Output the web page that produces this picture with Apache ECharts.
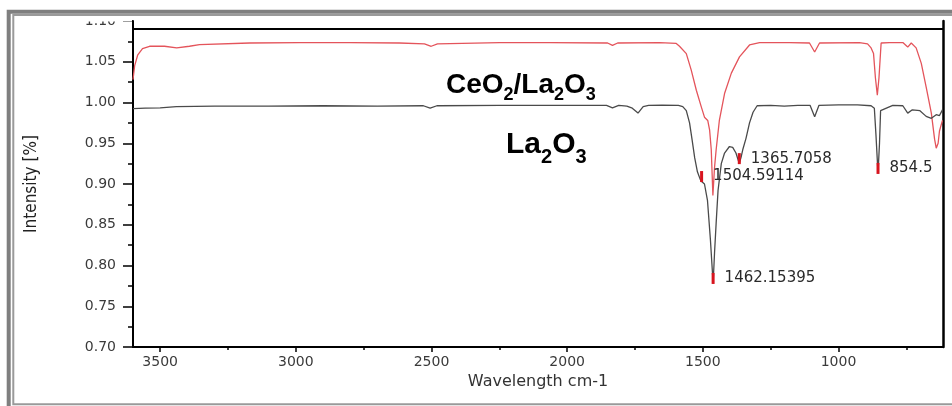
<!DOCTYPE html>
<html>
<head>
<meta charset="utf-8">
<script src="https://cdn.jsdelivr.net/npm/echarts@6/dist/echarts.min.js"></script>
<style>
html,body{margin:0;padding:0;background:#fff;}
#chart{width:952px;height:406px;}
</style>
</head>
<body>
<div id="chart"></div>
<script>
// CeO2/La2O3 spectrum (red)
const ceLaWn = [3600,3594,3583,3565,3539,3484,3439,3392,3355,3170,2986,2802,2618,2526,2501,2478,2249,2065,1851,1833,1814,1660,1598,1586,1561,1543,1524,1506,1494,1482,1475,1469,1463,1457,1451,1439,1420,1395,1365,1328,1291,1181,1107,1088,1070,923,893,880,871,864,857,851,843,812,763,745,732,714,695,677,658,646,640,633,628,617];
const ceLaVal = [1.028,1.045,1.058,1.066,1.069,1.069,1.067,1.069,1.071,1.073,1.0735,1.0735,1.073,1.072,1.069,1.072,1.0735,1.0735,1.073,1.070,1.073,1.0735,1.0725,1.069,1.060,1.040,1.015,0.995,0.982,0.978,0.966,0.942,0.886,0.920,0.942,0.9785,1.011,1.036,1.056,1.0706,1.0735,1.0735,1.073,1.062,1.073,1.0735,1.072,1.067,1.060,1.030,1.009,1.030,1.073,1.0735,1.0735,1.068,1.073,1.067,1.048,1.019,0.987,0.955,0.944,0.950,0.965,0.978];

// La2O3 spectrum (black)
const laWn = [3600,3555,3500,3440,3300,3100,2900,2700,2530,2505,2480,2250,2050,1855,1833,1810,1780,1760,1739,1720,1700,1650,1590,1574,1561,1549,1540,1530,1520,1510,1504.6,1494,1483,1472,1462.15,1457,1451,1444,1432,1420,1402,1390,1378,1365.7,1359,1353,1341,1328,1315,1300,1250,1200,1150,1105,1088,1072,1000,930,880,868,862,854.5,849,845,800,763,745,728,700,677,658,640,628,617];
const laVal = [0.9925,0.9930,0.9935,0.9950,0.9955,0.9955,0.9960,0.9955,0.9960,0.9930,0.9960,0.9965,0.9965,0.9965,0.9935,0.9965,0.9955,0.9930,0.9870,0.9950,0.9965,0.9968,0.9965,0.9950,0.9900,0.9750,0.9550,0.9320,0.9150,0.9060,0.9030,0.9000,0.8800,0.8310,0.7780,0.8150,0.8520,0.8920,0.9250,0.9380,0.9460,0.9450,0.9380,0.9250,0.9330,0.9420,0.9560,0.9750,0.9880,0.9960,0.9965,0.9955,0.9965,0.9965,0.9826,0.9965,0.9970,0.9970,0.9960,0.9930,0.9600,0.9130,0.9500,0.9900,0.9965,0.9960,0.9870,0.9910,0.9900,0.9830,0.9806,0.9850,0.9840,0.9910];

// picked peaks
const peakWn = [1504.59114, 1462.15395, 1365.7058, 854.5];
const peakVal = [0.903, 0.778, 0.925, 0.913];
const peakLabels = ['1504.59114', '1462.15395', '1365.7058', '854.5'];

// axis ticks
const xMajorTicks = [1000, 1500, 2000, 2500, 3000, 3500];
const xMinorTicks = [750, 1250, 1750, 2250, 2750, 3250];
const xMin = 615, xMax = 3600;
const yMin = 0.70, yMax = 1.10, yStep = 0.05;
const topLineValue = 1.0915;

const xAxisName = 'Wavelength cm-1';
const yAxisName = 'Intensity [%]';

const zip = (a, b) => a.map((v, i) => [v, b[i]]);

const chart = echarts.init(document.getElementById('chart'));
const tickFont = 'DejaVu Sans';

chart.setOption({
  backgroundColor: '#ffffff',
  animation: false,
  grid: { left: 133, right: 9, top: 21, bottom: 59, containLabel: false },
  xAxis: [
    {
      type: 'value', inverse: true, min: xMin, max: xMax,
      name: xAxisName, nameLocation: 'middle', nameGap: 19,
      nameTextStyle: { fontFamily: tickFont, fontSize: 16, color: '#333' },
      axisLine: { show: true, onZero: false, lineStyle: { color: '#000', width: 2 } },
      axisTick: { show: true, inside: false, length: 5, lineStyle: { color: '#000', width: 1.5 }, customValues: xMajorTicks },
      axisLabel: { show: true, margin: 8, fontFamily: tickFont, fontSize: 14, color: '#3a3a3a', customValues: xMajorTicks,
        formatter: v => String(v) },
      splitLine: { show: false }
    },
    {
      type: 'value', inverse: true, min: xMin, max: xMax, position: 'bottom',
      axisLine: { show: false },
      axisTick: { show: true, inside: false, length: 3, lineStyle: { color: '#000', width: 1.5 }, customValues: xMinorTicks },
      axisLabel: { show: false },
      splitLine: { show: false }
    }
  ],
  yAxis: [
    {
      type: 'value', min: yMin, max: yMax, interval: yStep, position: 'left',
      name: yAxisName, nameLocation: 'middle', nameGap: 93, nameRotate: 90,
      nameTextStyle: { fontFamily: "'Liberation Sans Narrow', 'DejaVu Sans Condensed', sans-serif", fontSize: 17, color: '#222' },
      axisLine: { show: true, onZero: false, lineStyle: { color: '#000', width: 2 } },
      axisTick: { show: true, inside: false, length: 10, lineStyle: { color: '#000', width: 1.5 } },
      minorTick: { show: true, splitNumber: 2, length: 5, lineStyle: { color: '#000', width: 1.5 } },
      axisLabel: { show: true, margin: 17, fontFamily: tickFont, fontSize: 14, color: '#3a3a3a',
        formatter: v => v.toFixed(2) },
      splitLine: { show: false }
    },
    {
      type: 'value', min: yMin, max: yMax, position: 'right',
      axisLine: { show: true, onZero: false, lineStyle: { color: '#000', width: 2.5 } },
      axisTick: { show: false }, axisLabel: { show: false }, splitLine: { show: false }
    }
  ],
  series: [
    {
      name: 'CeO2/La2O3', type: 'line', xAxisIndex: 0, yAxisIndex: 0,
      data: zip(ceLaWn, ceLaVal), showSymbol: false, smooth: false,
      lineStyle: { color: '#e4545b', width: 1.3 }, itemStyle: { color: '#e4545b' },
      clip: true,
      markLine: {
        silent: true, symbol: ['none', 'none'], label: { show: false },
        lineStyle: { color: '#000', width: 2, type: 'solid' },
        data: [{ yAxis: topLineValue }]
      }
    },
    {
      name: 'La2O3', type: 'line', xAxisIndex: 0, yAxisIndex: 0,
      data: zip(laWn, laVal), showSymbol: false, smooth: false,
      lineStyle: { color: '#4a4a4a', width: 1.3 }, itemStyle: { color: '#4a4a4a' },
      z: 3,
      markPoint: {
        silent: true,
        symbol: 'rect', symbolSize: [3, 11], symbolOffset: [0, -5],
        itemStyle: { color: '#d8141e' },
        label: { show: true, position: 'right', distance: 10, offset: [0, 0],
          fontFamily: tickFont, fontSize: 15, color: '#2a2a2a',
          formatter: p => p.name },
        data: peakWn.map((w, i) => ({ name: peakLabels[i], coord: [w, peakVal[i]] }))
      }
    }
  ],
  graphic: [
    { type: 'rect', z: 100, silent: true, shape: { x: 8.7, y: 11.7, width: 1000, height: 1000 },
      style: { fill: 'none', stroke: '#7f7f7f', lineWidth: 4 } },
    { type: 'rect', z: 100, silent: true, shape: { x: 13.3, y: 15, width: 1000, height: 389.3 },
      style: { fill: 'none', stroke: '#9a9a9a', lineWidth: 2 } },
    { type: 'rect', z: 99, silent: true, shape: { x: 40, y: 16, width: 92, height: 5.5 },
      style: { fill: '#ffffff' } },
    { type: 'text', z: 101, left: 446, top: 71, silent: true,
      style: {
        text: '{b|CeO}{s|2}{b|/La}{s|2}{b|O}{s|3}',
        rich: {
          b: { fontFamily: 'Liberation Sans', fontWeight: 'bold', fontSize: 28, lineHeight: 38, fill: '#000' },
          s: { fontFamily: 'Liberation Sans', fontWeight: 'bold', fontSize: 18, lineHeight: 17, verticalAlign: 'bottom', fill: '#000' }
        }
      } },
    { type: 'text', z: 101, left: 506, top: 130, silent: true,
      style: {
        text: '{b|La}{s|2}{b|O}{s|3}',
        rich: {
          b: { fontFamily: 'Liberation Sans', fontWeight: 'bold', fontSize: 30, lineHeight: 44, fill: '#000' },
          s: { fontFamily: 'Liberation Sans', fontWeight: 'bold', fontSize: 20, lineHeight: 20, verticalAlign: 'bottom', fill: '#000' }
        }
      } }
  ]
});
</script>
</body>
</html>
